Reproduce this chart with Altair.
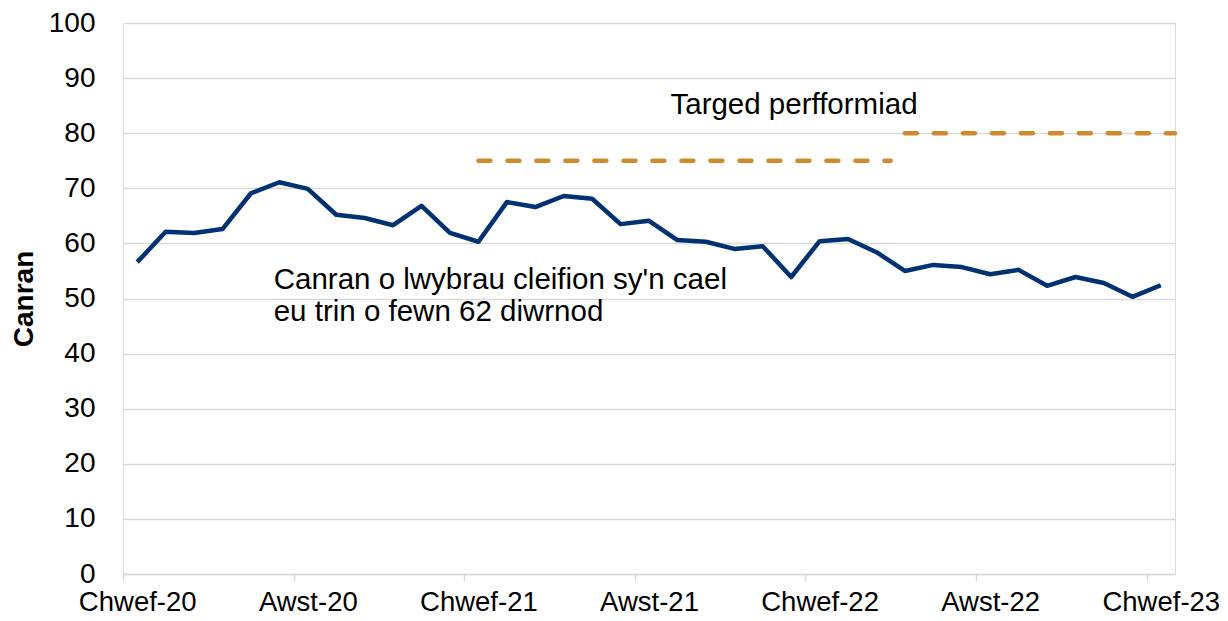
import altair as alt
import pandas as pd

# Monthly categories Feb 2020 .. Feb 2023
months = ["Chwef-20", "Maw-20", "Ebr-20", "Mai-20", "Meh-20", "Gorff-20", "Awst-20", "Medi-20",
          "Hyd-20", "Tach-20", "Rhag-20", "Ion-21", "Chwef-21", "Maw-21", "Ebr-21", "Mai-21",
          "Meh-21", "Gorff-21", "Awst-21", "Medi-21", "Hyd-21", "Tach-21", "Rhag-21", "Ion-22",
          "Chwef-22", "Maw-22", "Ebr-22", "Mai-22", "Meh-22", "Gorff-22", "Awst-22", "Medi-22",
          "Hyd-22", "Tach-22", "Rhag-22", "Ion-23", "Chwef-23"]
percent = [56.6, 62.1, 61.9, 62.6, 69.1, 71.1, 69.9, 65.2, 64.6, 63.3, 66.8, 61.9,
           60.3, 67.5, 66.6, 68.6, 68.1, 63.5, 64.1, 60.6, 60.3, 59.0, 59.5, 53.9,
           60.4, 60.8, 58.4, 55.0, 56.1, 55.7, 54.4, 55.2, 52.3, 53.9, 52.8, 50.3, 52.4]

tick_labels = ["Chwef-20", "Awst-20", "Chwef-21", "Awst-21", "Chwef-22", "Awst-22", "Chwef-23"]

target_values = [75, 80]
target_start = [12, 27]      # month index where each target period begins
target_end = [26.5, 36.5]

FONT = "Liberation Sans"
FS = 28

df = pd.DataFrame({"i": list(range(len(months))), "month": months, "pct": percent})
tdf = pd.DataFrame({"x": target_start, "x2": target_end, "y": target_values})

n = len(months)
W, H = 1052, 551
half = W / n / 2

xscale = alt.Scale(domain=[-0.5, n - 0.5], nice=False, zero=False)
yscale = alt.Scale(domain=[0, 100], nice=False)

label_arr = "[" + ",".join(f"'{t}'" for t in tick_labels) + "]"

xaxis = alt.Axis(
    values=[-0.5 + 6 * k for k in range(len(tick_labels))],
    labelExpr=f"{label_arr}[round((datum.value + 0.5) / 6)]",
    labelOffset=half,
    labelFlush=False,
    labelOverlap=False,
    grid=False,
    domainColor="#d9d9d9",
    domainWidth=1.5,
    tickColor="#d9d9d9",
    tickWidth=1.5,
    tickSize=7,
    labelPadding=7,
    labelFont=FONT,
    labelFontSize=27.5,
    labelColor="#000000",
    title=None,
)
yaxis = alt.Axis(
    values=list(range(0, 101, 10)),
    grid=True,
    gridColor="#d9d9d9",
    gridWidth=1.5,
    domain=False,
    ticks=False,
    labelPadding=28,
    labelFont=FONT,
    labelFontSize=FS,
    labelColor="#000000",
    title="Canran",
    titleFont=FONT,
    titleFontSize=FS,
    titleFontWeight="bold",
    titleColor="#000000",
    titlePadding=10,
)

line = alt.Chart(df).mark_line(color="#003172", strokeWidth=4.5, strokeJoin="round").encode(
    x=alt.X("i:Q", scale=xscale, axis=xaxis),
    y=alt.Y("pct:Q", scale=yscale, axis=yaxis),
)

targets = alt.Chart(tdf).mark_rule(
    color="#d08a2e", strokeWidth=4.5, strokeDash=[12, 17], strokeCap="round"
).encode(
    x=alt.X("x:Q", scale=xscale),
    x2="x2:Q",
    y=alt.Y("y:Q", scale=yscale),
)

ann_text = ["Targed perfformiad", "Canran o lwybrau cleifion sy'n cael", "eu trin o fewn 62 diwrnod"]
ann = pd.DataFrame({
    "text": ann_text,
    "x": [23.1, 4.8, 4.8],
    "y": [85.2, 53.3, 47.6],
})

text_c = alt.Chart(ann.iloc[[0]]).mark_text(font=FONT, fontSize=29.5, color="#000000", align="center", baseline="middle").encode(
    x=alt.X("x:Q", scale=xscale), y=alt.Y("y:Q", scale=yscale), text="text:N"
)
text_l = alt.Chart(ann.iloc[1:]).mark_text(font=FONT, fontSize=29.5, color="#000000", align="left", baseline="middle").encode(
    x=alt.X("x:Q", scale=xscale), y=alt.Y("y:Q", scale=yscale), text="text:N"
)

chart = alt.layer(line, targets, text_c, text_l).properties(
    width=W, height=H, padding={"left": 2, "top": 1, "right": 0, "bottom": 0}
).configure_view(stroke=None).configure(background="white")

chart.save("out.html", embed_options={"renderer": "svg", "actions": False})
